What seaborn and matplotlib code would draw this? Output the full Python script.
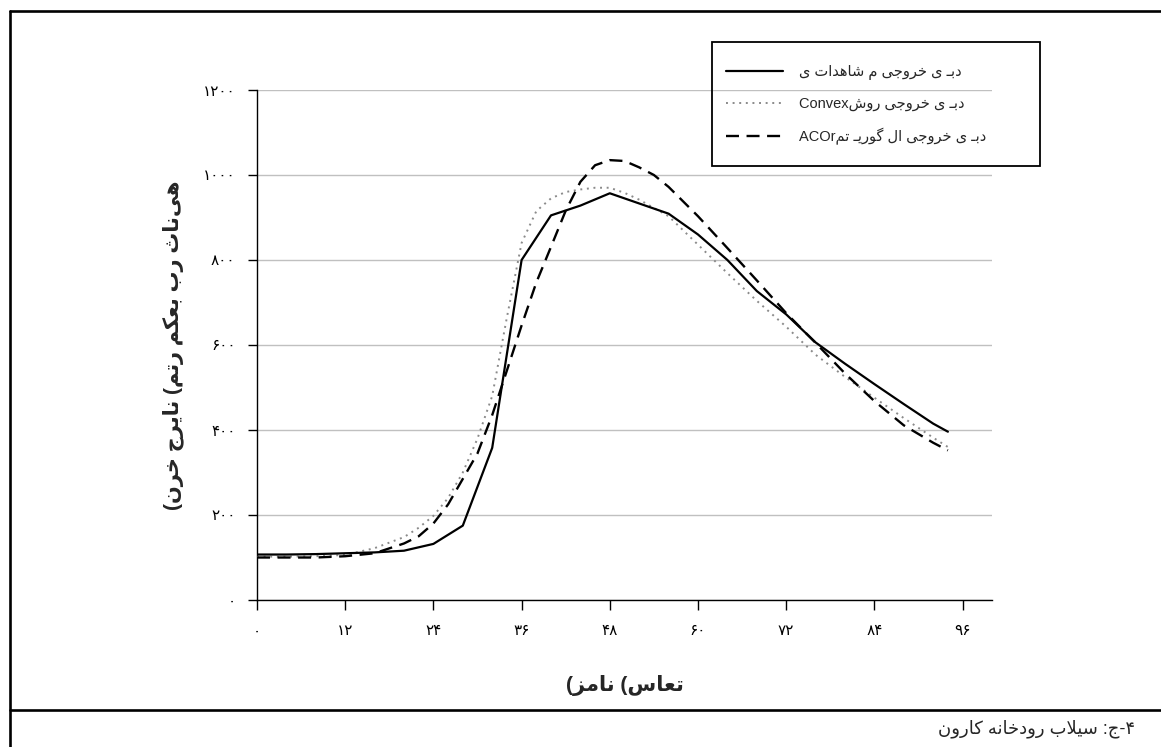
import matplotlib
matplotlib.use("Agg")
import matplotlib.pyplot as plt
from matplotlib.lines import Line2D
from matplotlib.patches import Rectangle
import seaborn as sns
import pandas as pd

# ---------------- data ----------------
hours_obs = [0, 4, 8, 12, 16, 20, 24, 28, 32, 36, 40, 44, 48, 52, 56, 60, 64, 68, 72, 76, 80, 84, 88, 92, 94]
flow_obs = [107, 107, 108, 110, 112, 116, 132, 175, 358, 800, 905, 928, 957, 933, 909, 860, 800, 727, 672, 606, 556, 508, 461, 415, 396]

hours_cvx = [0, 4, 8, 12, 16, 20, 22, 24, 26, 28, 30, 32, 34, 36, 38, 40, 42, 44, 46, 48, 50, 52, 56, 60, 64, 68, 72, 76, 80, 84, 88, 92, 94]
flow_cvx = [102, 102, 103, 106, 122, 148, 170, 198, 240, 300, 380, 480, 665, 840, 915, 945, 960, 966, 970, 970, 958, 942, 903, 836, 769, 704, 643, 577, 525, 476, 428, 382, 360]

hours_aco = [0, 4, 8, 12, 16, 20, 22, 24, 26, 28, 30, 32, 34, 36, 38, 40, 42, 44, 46, 48, 50, 52, 54, 56, 60, 64, 68, 72, 76, 80, 84, 88, 92, 94]
flow_aco = [100, 100, 100, 103, 110, 133, 150, 180, 225, 285, 345, 435, 540, 646, 747, 831, 916, 984, 1023, 1035, 1033, 1018, 1000, 972, 903, 828, 752, 675, 605, 533, 468, 411, 370, 352]

x_ticks = [0, 12, 24, 36, 48, 60, 72, 84, 96]
x_tick_labels = ["۰", "۱۲", "۲۴", "۳۶", "۴۸", "۶۰", "۷۲", "۸۴", "۹۶"]
y_ticks = [0, 200, 400, 600, 800, 1000, 1200]
y_tick_labels = ["۰", "۲۰۰", "۴۰۰", "۶۰۰", "۸۰۰", "۱۰۰۰", "۱۲۰۰"]

# ---------------- simple Persian shaping (visual order for LTR drawing) ----------------
FORMS = {
    'ا': (0xFE8D, 0xFE8E, None, None),
    'ب': (0xFE8F, 0xFE90, 0xFE91, 0xFE92),
    'ت': (0xFE95, 0xFE96, 0xFE97, 0xFE98),
    'ث': (0xFE99, 0xFE9A, 0xFE9B, 0xFE9C),
    'ج': (0xFE9D, 0xFE9E, 0xFE9F, 0xFEA0),
    'خ': (0xFEA5, 0xFEA6, 0xFEA7, 0xFEA8),
    'د': (0xFEA9, 0xFEAA, None, None),
    'ر': (0xFEAD, 0xFEAE, None, None),
    'ز': (0xFEAF, 0xFEB0, None, None),
    'س': (0xFEB1, 0xFEB2, 0xFEB3, 0xFEB4),
    'ش': (0xFEB5, 0xFEB6, 0xFEB7, 0xFEB8),
    'ع': (0xFEC9, 0xFECA, 0xFECB, 0xFECC),
    'ل': (0xFEDD, 0xFEDE, 0xFEDF, 0xFEE0),
    'م': (0xFEE1, 0xFEE2, 0xFEE3, 0xFEE4),
    'ن': (0xFEE5, 0xFEE6, 0xFEE7, 0xFEE8),
    'ه': (0xFEE9, 0xFEEA, 0xFEEB, 0xFEEC),
    'و': (0xFEED, 0xFEEE, None, None),
    'ی': (0xFBFC, 0xFBFD, 0xFBFE, 0xFBFF),
    'ک': (0xFB8E, 0xFB8F, 0xFB90, 0xFB91),
    'گ': (0xFB92, 0xFB93, 0xFB94, 0xFB95),
    'ـ': (0x0640, 0x0640, 0x0640, 0x0640),
}


def _dual(c):
    return c in FORMS and FORMS[c][2] is not None


def shape(s):
    out = []
    i, n = 0, len(s)
    while i < n:
        c = s[i]
        if c not in FORMS:
            if c != '\u200c':
                out.append(c)
            i += 1
            continue
        jp = i > 0 and _dual(s[i - 1])
        if c == 'ل' and i + 1 < n and s[i + 1] == 'ا':
            out.append(chr(0xFEFC if jp else 0xFEFB))
            i += 2
            continue
        jn = _dual(c) and i + 1 < n and s[i + 1] in FORMS
        f = FORMS[c]
        code = f[3] if (jp and jn) else f[1] if jp else f[2] if jn else f[0]
        out.append(chr(code))
        i += 1
    return ''.join(out)


def rtl(s):
    v = shape(s)[::-1]
    return v.translate(str.maketrans({'(': ')', ')': '('}))


lbl_obs = rtl("دبـ ی خروجی م شاهدات ی")
lbl_cvx = "Convex" + rtl("دبـ ی خروجی روش")
lbl_aco = "ACOr" + rtl("دبـ ی خروجی ال گوریـ تم")
x_label = rtl("تعاس) نامز)")
y_label = rtl("هی\u200cناث رب بعکم رتم) نایرج خرن)")
caption = rtl("۴-ج: سیلاب رودخانه کارون")

# ---------------- plotting ----------------
sns.set_theme(style="white")
plt.rcParams['font.family'] = ['Liberation Sans', 'DejaVu Sans']

W, H = 1161, 747
fig = plt.figure(figsize=(W / 100, H / 100), dpi=100)
fig.patch.set_facecolor("white")
ax = fig.add_axes([257 / W, 1 - 600 / H, (992 - 257) / W, (600 - 90) / H])

df_obs = pd.DataFrame({"h": hours_obs, "q": flow_obs})
df_cvx = pd.DataFrame({"h": hours_cvx, "q": flow_cvx})
df_aco = pd.DataFrame({"h": hours_aco, "q": flow_aco})

sns.lineplot(data=df_cvx, x="h", y="q", ax=ax, color="#8a8a8a", lw=1.4,
             linestyle=(0, (1, 2.4)), label=lbl_cvx, zorder=3)
sns.lineplot(data=df_aco, x="h", y="q", ax=ax, color="black", lw=1.7,
             linestyle=(0, (5.5, 3.2)), label=lbl_aco, zorder=4)
sns.lineplot(data=df_obs, x="h", y="q", ax=ax, color="black", lw=1.6,
             linestyle="-", label=lbl_obs, zorder=5)

ax.set_xlim(0, 100)
ax.set_ylim(0, 1200)
ax.set_xticks(x_ticks)
ax.set_xticklabels(x_tick_labels, fontsize=11)
ax.set_yticks(y_ticks)
ax.set_yticklabels(y_tick_labels, fontsize=11)
ax.tick_params(axis="x", bottom=True, direction="out", length=7.5, width=1, pad=10, colors="black")
ax.tick_params(axis="y", left=True, direction="out", length=6.5, width=1, pad=9, colors="black")
ax.yaxis.grid(True, color="#c0c0c0", lw=1)
ax.xaxis.grid(False)
for sp in ["top", "right"]:
    ax.spines[sp].set_visible(False)
for sp in ["left", "bottom"]:
    ax.spines[sp].set_color("black")
    ax.spines[sp].set_linewidth(1)

ax.set_xlabel(x_label, fontsize=15, fontweight="bold")
ax.set_ylabel(y_label, fontsize=15, fontweight="bold")
ax.xaxis.set_label_coords(0.5, (600 - 686) / 510)
ax.xaxis.label.set_va("center")
ax.yaxis.set_label_coords((173 - 257) / 735, 0.5)
ax.yaxis.label.set_va("center")

# legend (order: observed, convex, ACOr)
handles, labels = ax.get_legend_handles_labels()
order = [labels.index(lbl_obs), labels.index(lbl_cvx), labels.index(lbl_aco)]
leg = ax.legend([handles[i] for i in order], [labels[i] for i in order],
                loc="upper left", bbox_to_anchor=(726 / W, 1 - 65 / H),
                bbox_transform=fig.transFigure, frameon=False, fontsize=10.5,
                handlelength=3.9, handletextpad=1.1, labelspacing=1.15,
                borderpad=0, borderaxespad=0)
fig.add_artist(Rectangle((712 / W, 1 - 166 / H), (1040 - 712) / W, (166 - 42) / H,
                         transform=fig.transFigure, fill=False, edgecolor="black", lw=1.3))

# outer frame lines
lw_frame = 1.9
fig.add_artist(Line2D([10 / W, 1], [1 - 11 / H, 1 - 11 / H], transform=fig.transFigure, color="black", lw=lw_frame))
fig.add_artist(Line2D([10 / W, 10 / W], [0, 1 - 11 / H], transform=fig.transFigure, color="black", lw=lw_frame))
fig.add_artist(Line2D([10 / W, 1], [1 - 710 / H, 1 - 710 / H], transform=fig.transFigure, color="black", lw=lw_frame))

fig.text(1135 / W, 1 - 729 / H, caption, ha="right", va="center", fontsize=13)

fig.savefig("out.png", dpi=100, facecolor="white")
